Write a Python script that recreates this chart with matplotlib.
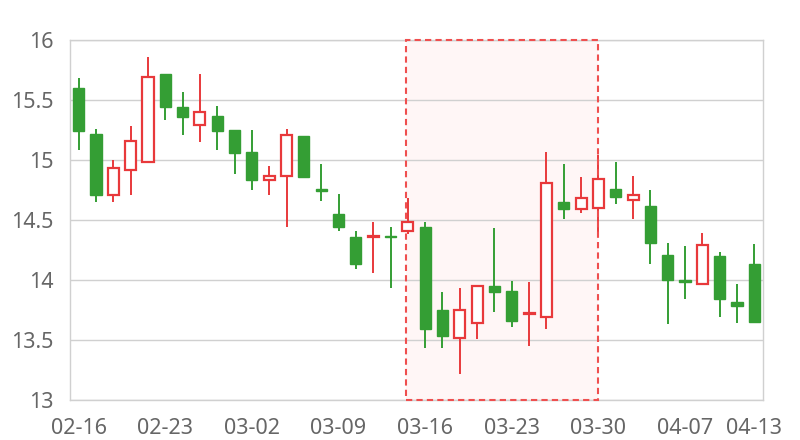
import matplotlib
matplotlib.use("Agg")
import matplotlib.pyplot as plt
from matplotlib.patches import Rectangle

dates = ["02-16", "02-17", "02-18", "02-19", "02-20",
         "02-23", "02-24", "02-25", "02-26", "02-27",
         "03-02", "03-03", "03-04", "03-05", "03-06",
         "03-09", "03-10", "03-11", "03-12", "03-13",
         "03-16", "03-17", "03-18", "03-19", "03-20",
         "03-23", "03-24", "03-25", "03-26", "03-27",
         "03-30", "03-31", "04-01", "04-02", "04-03",
         "04-07", "04-08", "04-09", "04-10", "04-13"]
opens = [15.60, 15.22, 14.71, 14.92, 14.98, 15.72, 15.44, 15.29, 15.37, 15.25,
         15.07, 14.83, 14.87, 15.20, 14.76, 14.55, 14.36, 14.36, 14.365, 14.41,
         14.44, 13.75, 13.52, 13.64, 13.95, 13.91, 13.715, 13.69, 14.65, 14.59,
         14.60, 14.76, 14.67, 14.62, 14.21, 14.00, 13.97, 14.20, 13.82, 14.13]
closes = [15.24, 14.71, 14.93, 15.16, 15.69, 15.44, 15.36, 15.40, 15.24, 15.06,
          14.83, 14.87, 15.21, 14.86, 14.745, 14.44, 14.13, 14.37, 14.355, 14.48,
          13.59, 13.53, 13.75, 13.95, 13.90, 13.66, 13.725, 14.81, 14.59, 14.68,
          14.84, 14.69, 14.71, 14.31, 14.00, 13.98, 14.29, 13.84, 13.78, 13.65]
highs = [15.68, 15.26, 15.00, 15.28, 15.86, 15.72, 15.57, 15.72, 15.45, 15.25,
         15.25, 14.95, 15.26, 15.20, 14.97, 14.72, 14.41, 14.48, 14.44, 14.68,
         14.48, 13.90, 13.93, 13.96, 14.43, 13.99, 13.98, 15.07, 14.97, 14.86,
         15.04, 14.98, 14.87, 14.75, 14.31, 14.28, 14.39, 14.23, 13.97, 14.30]
lows = [15.08, 14.65, 14.65, 14.71, 14.98, 15.33, 15.21, 15.15, 15.08, 14.88,
        14.75, 14.71, 14.44, 14.86, 14.66, 14.41, 14.09, 14.06, 13.93, 14.38,
        13.43, 13.43, 13.22, 13.51, 13.73, 13.61, 13.45, 13.59, 14.51, 14.56,
        14.36, 14.63, 14.51, 14.13, 13.63, 13.84, 13.96, 13.69, 13.64, 13.64]
highlight_start = "03-13"
highlight_end = "03-30"
tick_labels = ["02-16", "02-23", "03-02", "03-09", "03-16", "03-23", "03-30", "04-07", "04-13"]

UP = "#e8393b"
DOWN = "#349e34"
GRID = "#d0d0d0"
TXT = "#666666"

plt.rcParams['font.family'] = ['Noto Sans', 'DejaVu Sans']

fig = plt.figure(figsize=(8, 4.4), dpi=100)
ax = fig.add_axes([70 / 800, 40 / 440, 693 / 800, 360 / 440])

n = len(dates)
xs = list(range(n))
bw = 0.64

for x, o, c, h, l in zip(xs, opens, closes, highs, lows):
    up = c > o
    col = UP if up else DOWN
    top, bot = max(o, c), min(o, c)
    ax.vlines(x, l, h, color=col, lw=1.4, zorder=2)
    if up:
        ax.add_patch(Rectangle((x - bw / 2, bot), bw, top - bot, facecolor="white",
                               edgecolor=col, lw=1.6, zorder=3))
    else:
        ax.add_patch(Rectangle((x - bw / 2, bot), bw, top - bot, facecolor=col,
                               edgecolor=col, lw=1.0, zorder=3))

xa = dates.index(highlight_start) - 0.08
xb = dates.index(highlight_end) - 0.05
ax.add_patch(Rectangle((xa, 13), xb - xa, 3, facecolor="#fff6f6", edgecolor="none",
                       zorder=0.5))
ax.add_patch(Rectangle((xa, 13), xb - xa, 3, fill=False, edgecolor="#ef4f4f",
                       lw=1.5, linestyle=(0, (3, 2)), zorder=2.8, clip_on=False))

ax.set_xlim(-0.5, n - 0.5)
ax.set_ylim(13, 16)
ax.set_yticks([13, 13.5, 14, 14.5, 15, 15.5, 16])
ax.set_yticklabels(["13", "13.5", "14", "14.5", "15", "15.5", "16"])
ax.set_xticks([dates.index(t) for t in tick_labels])
ax.set_xticklabels(tick_labels)
ax.yaxis.grid(True, color=GRID, lw=1)
ax.set_axisbelow(True)
ax.tick_params(axis="both", length=0, labelsize=15.5, labelcolor=TXT)
ax.tick_params(axis="y", pad=12)
ax.tick_params(axis="x", pad=13)
for s in ax.spines.values():
    s.set_color(GRID)
    s.set_linewidth(1)

fig.savefig("out.png", dpi=100)
